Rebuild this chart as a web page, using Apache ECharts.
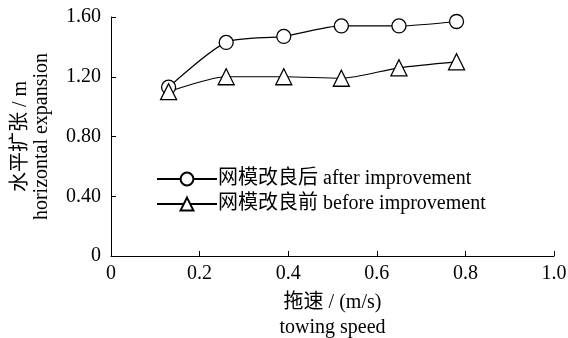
<!DOCTYPE html>
<html><head><meta charset="utf-8">
<script src="https://cdn.jsdelivr.net/npm/echarts@6/dist/echarts.min.js"></script>
<style>html,body{margin:0;padding:0;background:#fff}#c{width:568px;height:338px}</style>
</head><body><div id="c"></div>
<script>
var speeds = [0.13, 0.26, 0.39, 0.52, 0.65, 0.78];
var afterVals = [1.13, 1.43, 1.47, 1.54, 1.54, 1.57];
var beforeVals = [1.10, 1.20, 1.20, 1.19, 1.26, 1.30];
var seriesNames = ['网模改良后 after improvement', '网模改良前 before improvement'];
var yTicks = ['0', '0.40', '0.80', '1.20', '1.60'];
var xTicks = ['0', '0.2', '0.4', '0.6', '0.8', '1.0'];

var FONT = '"Liberation Serif", "Noto Sans CJK SC", serif';
var FS = 20;
function pairs(xs, ys){ return xs.map(function(x,i){return [x, ys[i]];}); }
var chart = echarts.init(document.getElementById('c'));
chart.setOption({
  animation: false,
  textStyle: {fontFamily: FONT, color: '#000'},
  grid: {left: 111, right: 14, top: 17, bottom: 82, containLabel: false, outerBoundsMode: 'none'},
  legend: {
    orient: 'vertical', left: 151, top: 164, itemGap: 5,
    itemWidth: 60, itemHeight: 16,
    textStyle: {fontFamily: FONT, fontSize: FS, color: '#000', padding: [0,0,0,-4]},
    data: seriesNames
  },
  xAxis: {
    type: 'value', min: 0, max: 1.0, interval: 0.2,
    name: '拖速 / (m/s)\ntowing speed', nameLocation: 'middle', nameGap: 34,
    nameTextStyle: {fontFamily: FONT, fontSize: FS, color: '#000', lineHeight: 25},
    axisLine: {lineStyle: {color: '#000', width: 1}},
    axisTick: {inside: true, length: 5, lineStyle: {color: '#000'}},
    axisLabel: {fontFamily: FONT, fontSize: FS, color: '#000', margin: 8,
      formatter: function(v){ return xTicks[Math.round(v/0.2)]; }},
    splitLine: {show: false}
  },
  yAxis: {
    type: 'value', min: 0, max: 1.6, interval: 0.4,
    name: '水平扩张 / m\nhorizontal expansion', nameLocation: 'middle', nameGap: 59, nameRotate: 90,
    nameTextStyle: {fontFamily: FONT, fontSize: FS, color: '#000', lineHeight: 21},
    axisLine: {show: true, lineStyle: {color: '#000', width: 1}},
    axisTick: {show: true, inside: true, length: 5, lineStyle: {color: '#000'}},
    axisLabel: {fontFamily: FONT, fontSize: FS, color: '#000', margin: 10,
      formatter: function(v){ return yTicks[Math.round(v/0.4)]; }},
    splitLine: {show: false}
  },
  series: [
    {name: seriesNames[0], type: 'line', data: pairs(speeds, afterVals), smooth: 0.25,
     symbol: 'circle', symbolSize: 14,
     itemStyle: {color: '#fff', borderColor: '#000', borderWidth: 1.3},
     lineStyle: {color: '#000', width: 1.2}},
    {name: seriesNames[1], type: 'line', data: pairs(speeds, beforeVals), smooth: 0.25,
     symbol: 'triangle', symbolSize: 16,
     itemStyle: {color: '#fff', borderColor: '#000', borderWidth: 1.3},
     lineStyle: {color: '#000', width: 1.2}}
  ]
});
</script></body></html>
